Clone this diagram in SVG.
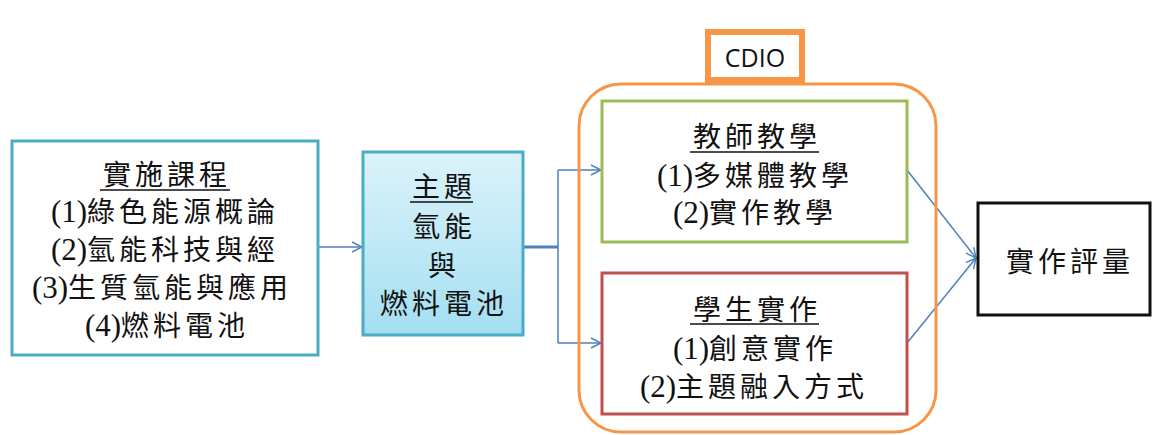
<svg xmlns="http://www.w3.org/2000/svg" width="1153" height="435" viewBox="0 0 1153 435">
<defs>
<linearGradient id="cg" x1="0" y1="0" x2="0" y2="1">
<stop offset="0" stop-color="#dcf3fb"/>
<stop offset="1" stop-color="#a3dff1"/>
</linearGradient>
<marker id="ah" viewBox="0 0 12 12" refX="11" refY="6" markerWidth="12" markerHeight="12" markerUnits="userSpaceOnUse" orient="auto">
<path d="M1,1 L11,6 L1,11" fill="none" stroke="#4f81bd" stroke-width="1.4"/>
</marker>
</defs>
<style>
.t{font-family:'Liberation Serif','Noto Sans CJK TC',serif;font-size:28px;fill:#111;text-anchor:middle;letter-spacing:4px}
.p{letter-spacing:0px;font-size:31px}
.u{stroke:#111;stroke-width:1.5}
.c{fill:none;stroke:#4f81bd;stroke-width:1.5}
</style>
<rect width="1153" height="435" fill="#fff"/>
<g id="connectors">
<line class="c" x1="318" y1="247" x2="362" y2="247" marker-end="url(#ah)"/>
<line x1="523" y1="247" x2="558" y2="247" stroke="#4f81bd" stroke-width="3"/>
<line class="c" x1="558" y1="170" x2="558" y2="343" stroke-width="2"/>
<line class="c" x1="558" y1="170" x2="601" y2="170" marker-end="url(#ah)"/>
<line class="c" x1="558" y1="343" x2="601" y2="343" marker-end="url(#ah)"/>
<line class="c" x1="907" y1="170" x2="976" y2="258" marker-end="url(#ah)"/>
<line class="c" x1="907" y1="343" x2="976" y2="258" marker-end="url(#ah)"/>
</g>
<g id="course">
<rect x="12" y="141" width="306" height="214" fill="none" stroke="#4bacc6" stroke-width="3"/>
<text class="t" x="167" y="185">實施課程</text>
<line class="u" x1="100" y1="190" x2="230" y2="190"/>
<text class="t" x="165" y="222"><tspan class="p">(1)</tspan>綠色能源概論</text>
<text class="t" x="165" y="260"><tspan class="p">(2)</tspan>氫能科技與經</text>
<text class="t" x="162" y="298"><tspan class="p">(3)</tspan>生質氫能與應用</text>
<text class="t" x="167" y="336"><tspan class="p">(4)</tspan>燃料電池</text>
</g>
<g id="theme">
<rect x="363" y="152" width="160" height="183" fill="url(#cg)" stroke="#4bacc6" stroke-width="3"/>
<text class="t" x="444" y="197">主題</text>
<line class="u" x1="410" y1="202" x2="473" y2="202"/>
<text class="t" x="444" y="237">氫能</text>
<text class="t" x="444" y="276">與</text>
<text class="t" x="444" y="314">燃料電池</text>
</g>
<g id="cdio">
<rect x="579" y="84" width="357" height="348" rx="42" fill="none" stroke="#f79646" stroke-width="3"/>
<rect x="708" y="32" width="94" height="48" fill="#fff" stroke="#f79646" stroke-width="6"/>
<text x="755" y="67" font-family="'Open Sans','Liberation Sans',sans-serif" font-size="25" text-anchor="middle" fill="#111">CDIO</text>
</g>
<g id="teacher">
<rect x="602" y="101" width="305" height="141" fill="#fff" stroke="#9bbb59" stroke-width="3"/>
<text class="t" x="757" y="147">教師教學</text>
<line class="u" x1="690" y1="152" x2="819" y2="152"/>
<text class="t" x="755" y="186"><tspan class="p">(1)</tspan>多媒體教學</text>
<text class="t" x="755" y="223"><tspan class="p">(2)</tspan>實作教學</text>
</g>
<g id="student">
<rect x="602" y="273" width="305" height="141" fill="#fff" stroke="#c0504d" stroke-width="3"/>
<text class="t" x="757" y="320">學生實作</text>
<line class="u" x1="690" y1="324" x2="819" y2="324"/>
<text class="t" x="755" y="359"><tspan class="p">(1)</tspan>創意實作</text>
<text class="t" x="754" y="397"><tspan class="p">(2)</tspan>主題融入方式</text>
</g>
<g id="evaluation">
<rect x="978" y="203" width="172" height="112" fill="#fff" stroke="#111" stroke-width="3"/>
<text class="t" x="1070" y="272">實作評量</text>
</g>
</svg>
